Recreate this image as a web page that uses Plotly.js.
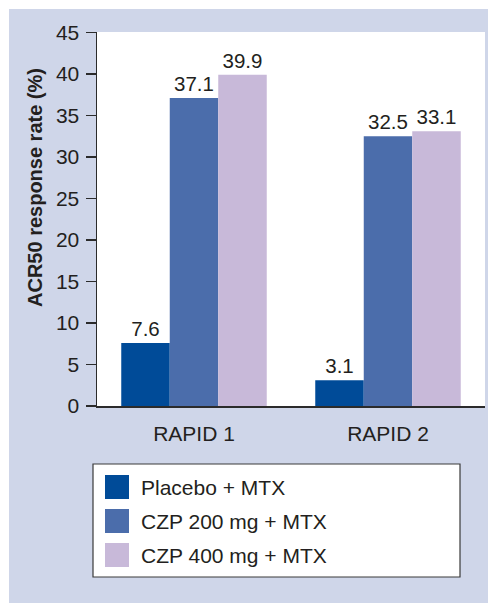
<!DOCTYPE html>
<html>
<head>
<meta charset="utf-8">
<script src="https://cdn.plot.ly/plotly-3.0.1.min.js"></script>
<style>
  html, body { margin: 0; padding: 0; background: #ffffff; }
  #chart { position: absolute; left: 9px; top: 9px; width: 479px; height: 594px; }
</style>
</head>
<body>
<div id="chart"></div>
<script>
// Trial groups and ACR50 response rates (%) per treatment arm
const studies = ['RAPID 1', 'RAPID 2'];
const armNames = ['Placebo + MTX', 'CZP 200 mg + MTX', 'CZP 400 mg + MTX'];
const placeboRates = [7.6, 3.1];
const czp200Rates = [37.1, 32.5];
const czp400Rates = [39.9, 33.1];
const armColors = ['#004b98', '#4b6dab', '#c8b9d9'];
const yTicks = [0, 5, 10, 15, 20, 25, 30, 35, 40, 45];
const yTitle = 'ACR50 response rate (%)';

const FONT = 'Liberation Sans, Arial, Helvetica, sans-serif';
const INK = '#231f20';
const TXT = 21;

const W = 479, H = 594;
const M = { l: 88, r: 3, t: 23, b: 197 };
const plotW = W - M.l - M.r, plotH = H - M.t - M.b;
// convert pixel positions in the figure to paper coordinates
const px = x => (x - M.l) / plotW;
const py = y => (H - M.b - y) / plotH;

const series = [placeboRates, czp200Rates, czp400Rates];
const traces = series.map((vals, i) => ({
  type: 'bar',
  name: armNames[i],
  x: studies,
  y: vals,
  marker: { color: armColors[i], line: { width: 0 } },
  text: vals.map(v => v.toFixed(1)),
  textposition: 'outside',
  textfont: { family: FONT, size: 20.5, color: INK },
  cliponaxis: false,
  hoverinfo: 'skip',
  showlegend: false
}));

// legend box, swatches and labels
const legLeft = 84, legRight = 451, legTop = 455, legBottom = 568;
const shapes = [{
  type: 'rect', xref: 'paper', yref: 'paper',
  x0: px(legLeft), x1: px(legRight), y0: py(legTop), y1: py(legBottom),
  fillcolor: '#ffffff', line: { color: '#3a3a3a', width: 1.2 }
}];
const annotations = [];
armNames.forEach((name, i) => {
  const cy = 478 + i * 34;
  shapes.push({
    type: 'rect', xref: 'paper', yref: 'paper',
    x0: px(96), x1: px(120), y0: py(cy - 12), y1: py(cy + 12),
    fillcolor: armColors[i], line: { width: 0 }
  });
  annotations.push({
    xref: 'paper', yref: 'paper', x: px(130), y: py(cy),
    xanchor: 'left', yanchor: 'middle', showarrow: false,
    text: name, font: { family: FONT, size: TXT, color: INK }
  });
});

// vertical axis title, set a little above the plot's midline
annotations.push({
  xref: 'paper', yref: 'paper', x: px(25.5), y: py(178.5),
  xanchor: 'center', yanchor: 'middle', showarrow: false, textangle: -90,
  text: '<b>' + yTitle + '</b>',
  font: { family: FONT, size: 20, color: INK }
});

const layout = {
  width: W, height: H,
  margin: M,
  paper_bgcolor: '#cfd6e9',
  plot_bgcolor: '#ffffff',
  barmode: 'group',
  bargap: 0.25,
  bargroupgap: 0,
  font: { family: FONT, size: TXT, color: INK },
  xaxis: {
    type: 'category',
    showline: true, linecolor: '#2b2b2b', linewidth: 1.5,
    ticks: '', showgrid: false, zeroline: false,
    tickfont: { family: FONT, size: TXT, color: INK },
    ticklabelstandoff: 8
  },
  yaxis: {
    range: [0, 45.05],
    tickvals: yTicks,
    ticktext: yTicks.map(String),
    showline: true, linecolor: '#2b2b2b', linewidth: 1.5,
    ticks: 'outside', ticklen: 10, tickwidth: 1.5, tickcolor: '#2b2b2b',
    showgrid: false, zeroline: false,
    tickfont: { family: FONT, size: TXT, color: INK },
    ticklabelstandoff: 2
  },
  shapes: shapes,
  annotations: annotations
};

Plotly.newPlot('chart', traces, layout, { displayModeBar: false, staticPlot: true });
</script>
</body>
</html>
